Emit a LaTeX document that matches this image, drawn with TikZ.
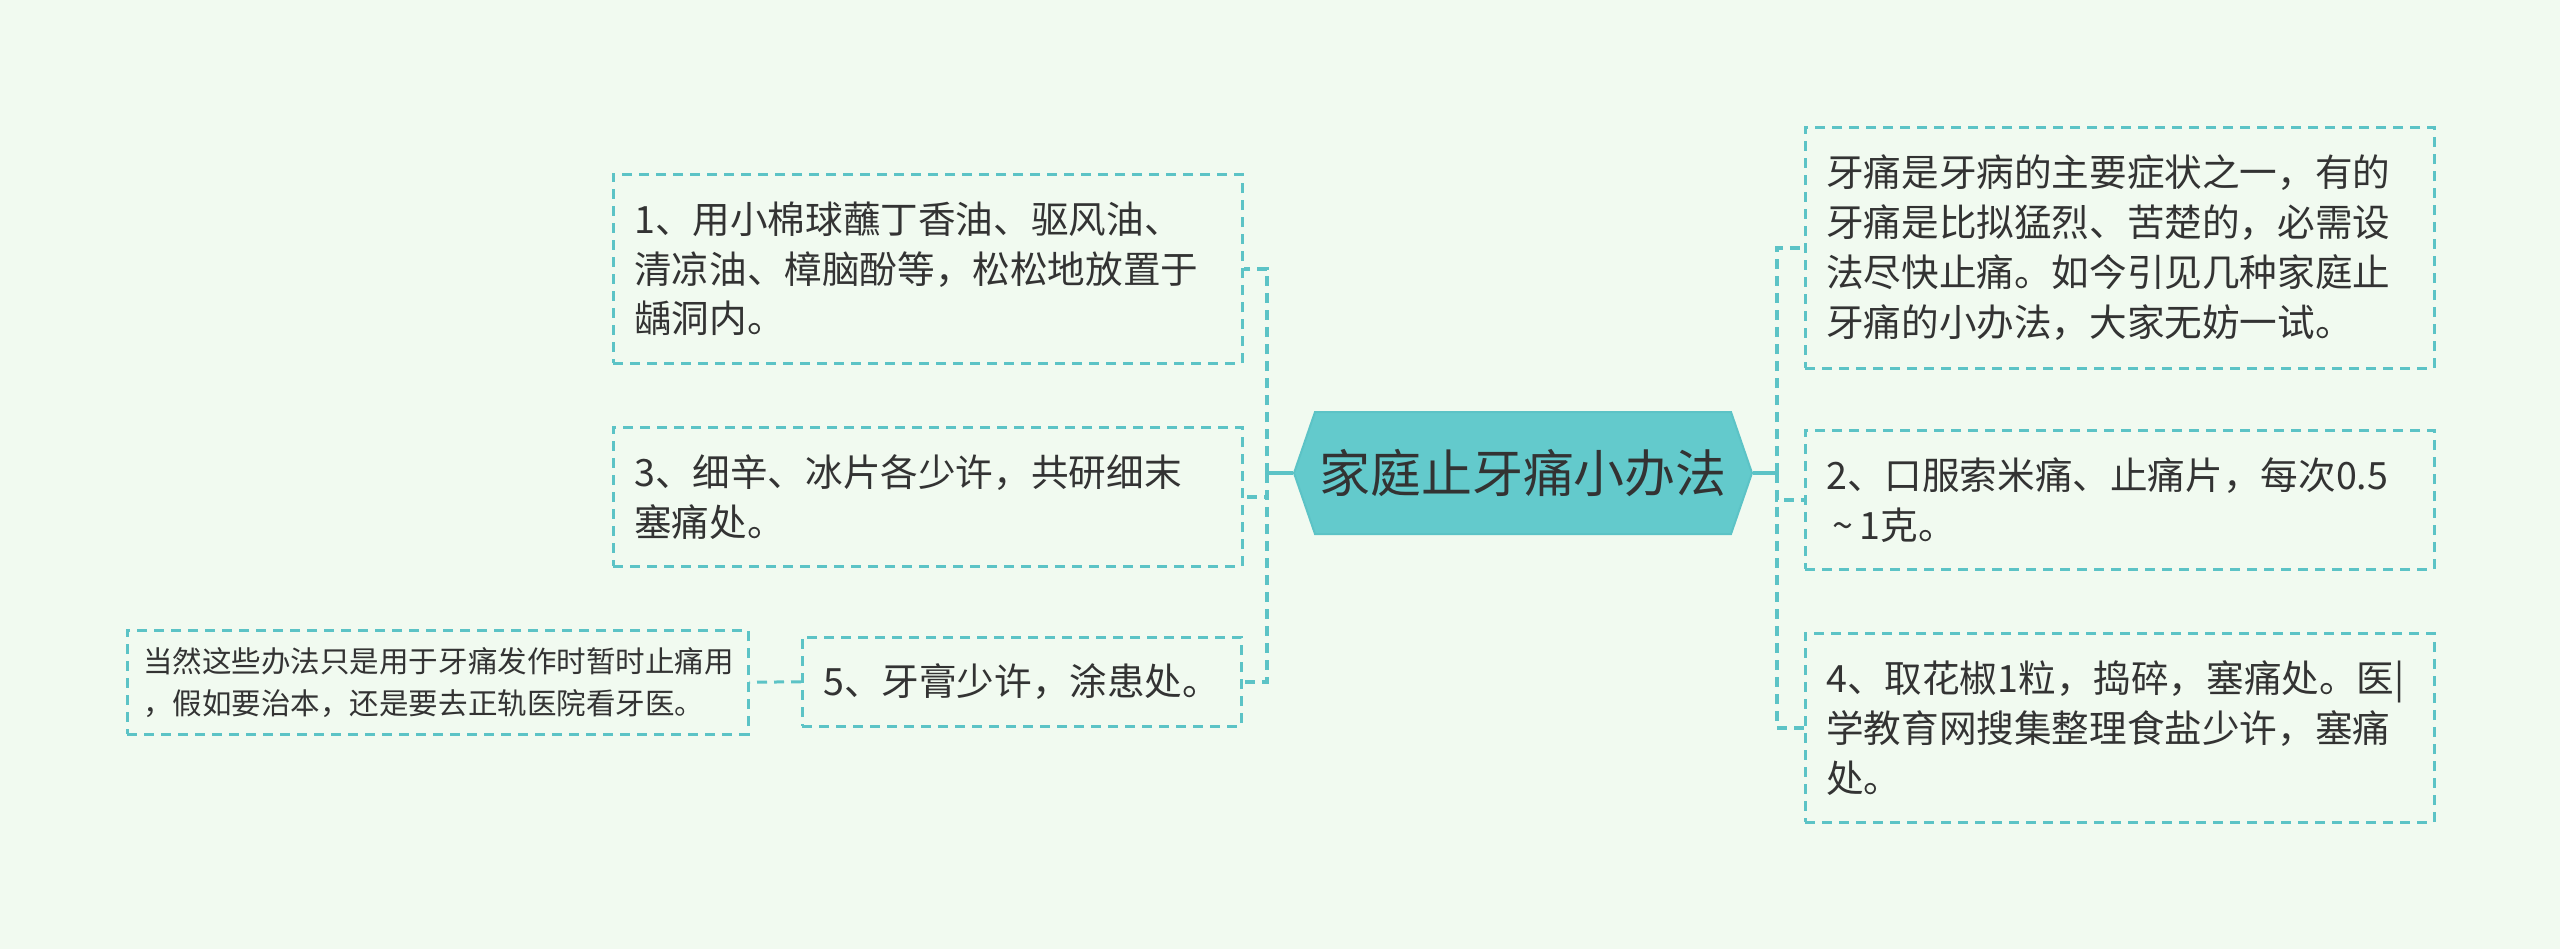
\documentclass[tikz,border=0pt]{standalone}
\usepackage{fontspec}
\setmainfont{Noto Sans CJK SC}
\usetikzlibrary{positioning,shapes.symbols}
\definecolor{bgmint}{HTML}{F1FAF0}
\definecolor{lineteal}{HTML}{5CC3C6}
\definecolor{rootfill}{HTML}{63CACC}
\definecolor{inkgray}{HTML}{333333}

\tikzset{
  box/.style={draw=lineteal,dash pattern=on 0.1cm off 0.07cm,line width=0.025cm,
    text=inkgray,align=left,anchor=north west,inner xsep=0.21cm,inner ysep=0pt,
    font=\fontsize{10.7pt}{14.2pt}\selectfont},
  notebox/.style={box,inner xsep=0.16cm,font=\fontsize{8.4pt}{11.9pt}\selectfont},
  rootbox/.style={signal,signal to=west and east,signal pointer angle=142,
    fill=rootfill,draw=lineteal,line width=0.02cm,text=inkgray,inner sep=0pt,
    minimum width=4.58cm,minimum height=1.22cm,font=\fontsize{14.5pt}{16pt}\selectfont},
  trunk/.style={draw=lineteal,line width=0.045cm},
  link/.style={draw=lineteal,line width=0.045cm,dash pattern=on 0.1cm off 0.07cm}
}

\begin{document}
\begin{tikzpicture}
\fill[bgmint] (0,0) rectangle (25.6,-9.49);
\useasboundingbox (0,0) rectangle (25.6,-9.49);

\node[rootbox] (root) at (15.23,-4.73) {家庭止牙痛小办法};

% left side
\node[box,text width=5.87cm,minimum height=1.89cm] (l1) at (6.12,-1.73)
  {1、用小棉球蘸丁香油、驱风油、\\清凉油、樟脑酚等，松松地放置于\\龋洞内。};
\node[box,text width=5.87cm,minimum height=1.39cm] (l3) at (6.12,-4.26)
  {3、细辛、冰片各少许，共研细末\\塞痛处。};
\node[box,text width=3.97cm,minimum height=0.89cm] (l5) at (8.01,-6.36)
  {5、牙膏少许，涂患处。};
\node[notebox,text width=5.89cm,minimum height=1.04cm] (note) at (1.26,-6.29)
  {当然这些办法只是用于牙痛发作时暂时止痛用\\，假如要治本，还是要去正轨医院看牙医。};

% right side
\node[box,text width=5.87cm,minimum height=2.41cm] (r1) at (18.04,-1.26)
  {牙痛是牙病的主要症状之一，有的\\牙痛是比拟猛烈、苦楚的，必需设\\法尽快止痛。如今引见几种家庭止\\牙痛的小办法，大家无妨一试。};
\node[box,text width=5.87cm,minimum height=1.39cm] (r2) at (18.04,-4.29)
  {2、口服索米痛、止痛片，每次0.5\\\,\textasciitilde\,1克。};
\node[box,text width=5.87cm,minimum height=1.89cm] (r3) at (18.04,-6.32)
  {4、取花椒1粒，捣碎，塞痛处。医|\\学教育网搜集整理食盐少许，塞痛\\处。};

\coordinate (ltrunk) at (12.67,-4.73);
\coordinate (rtrunk) at (17.77,-4.73);

\draw[trunk] (root.west) -- (ltrunk);
\draw[trunk] (root.east) -- (rtrunk);

\draw[link] (ltrunk) |- (l1.east);
\draw[link] (ltrunk) |- (l3.east);
\draw[link] (ltrunk) |- (l5.east);
\draw[link] (rtrunk) |- (r1.west);
\draw[link] (rtrunk) |- (r2.west);
\draw[link] (rtrunk) |- (r3.west);
\draw[link,line width=0.03cm] (l5.west) -- (note.east);
\end{tikzpicture}
\end{document}
